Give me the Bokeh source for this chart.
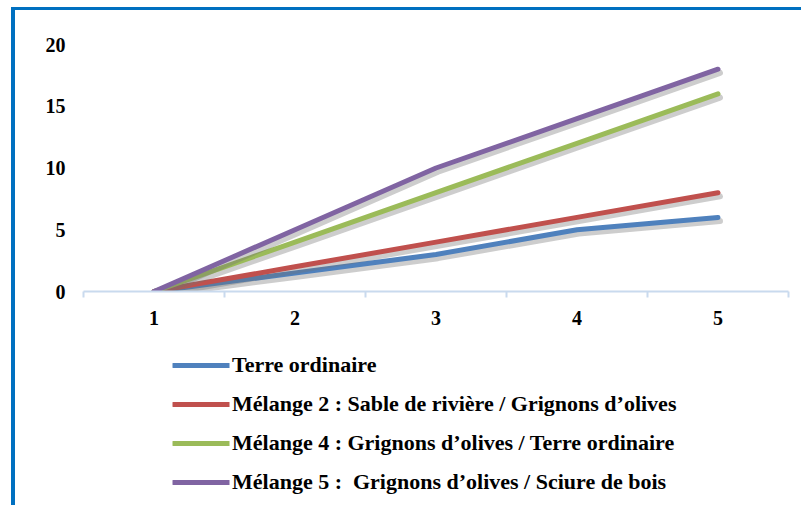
from bokeh.plotting import figure
from bokeh.models import FixedTicker, Legend, LegendItem, Range1d
from bokeh.layouts import column
from bokeh.transform import dodge
from bokeh.embed import file_html
from bokeh.resources import INLINE

x = [1, 2, 3, 4, 5]
x_labels = ["1", "2", "3", "4", "5"]
terre = [0, 1.5, 3, 5, 6]
melange2 = [0, 2, 4, 6, 8]
melange4 = [0, 4, 8, 12, 16]
melange5 = [0, 5, 10, 14, 18]
names = [
    "Terre ordinaire",
    "Mélange 2 : Sable de rivière / Grignons d’olives",
    "Mélange 4 : Grignons d’olives / Terre ordinaire",
    "Mélange 5 :  Grignons d’olives / Sciure de bois",
]
series = [terre, melange2, melange4, melange5]
colors = ["#4F81BD", "#C0504D", "#9BBB59", "#8064A2"]
y_ticks = [0, 5, 10, 15, 20]

FONT = "Liberation Serif"
BORDER = "4px solid #0070C0"

p = figure(width=790, height=330, output_backend="svg", toolbar_location=None,
           x_range=Range1d(0.5, 5.5), y_range=Range1d(0, 20),
           min_border_left=68, min_border_right=17, min_border_top=34,
           min_border_bottom=49)
p.styles = {"border-left": BORDER, "border-top": "3px solid #0070C0",
            "margin-left": "11px", "margin-top": "7px"}
p.outline_line_color = None
p.xgrid.grid_line_color = None
p.ygrid.grid_line_color = None

# x axis: boundary ticks as minor ticks, labels at categories
p.xaxis.ticker = FixedTicker(ticks=x, minor_ticks=[v - 0.5 for v in x] + [x[-1] + 0.5])
p.xaxis.major_label_overrides = {v: s for v, s in zip(x, x_labels)}
p.xaxis.axis_line_color = "#C9DAEE"
p.xaxis.axis_line_width = 2
p.xaxis.major_tick_line_color = None
p.xaxis.major_tick_out = 0
p.xaxis.major_tick_in = 0
p.xaxis.minor_tick_line_color = "#C9DAEE"
p.xaxis.minor_tick_line_width = 2
p.xaxis.minor_tick_out = 6
p.xaxis.minor_tick_in = 0
p.xaxis.major_label_standoff = 13

p.yaxis.ticker = FixedTicker(ticks=y_ticks)
p.yaxis.axis_line_color = None
p.yaxis.major_tick_line_color = None
p.yaxis.minor_tick_line_color = None
p.yaxis.major_tick_out = 0
p.yaxis.major_label_standoff = 18

for ax in (p.xaxis, p.yaxis):
    ax.major_label_text_font = FONT
    ax.major_label_text_font_style = "bold"
    ax.major_label_text_font_size = "20px"
    ax.major_label_text_color = "black"

for ys, c in zip(series, colors):
    src = {"x": x, "y": ys}
    p.line(x=dodge("x", 0.014, range=p.x_range), y=dodge("y", -0.3, range=p.y_range),
           source=src, line_color="#707070", line_alpha=0.35, line_width=6,
           line_cap="round", line_join="round")
    p.line(x="x", y="y", source=src, line_color=c, line_width=5,
           line_cap="round", line_join="round")

# legend panel (separate figure below the chart, same series drawn off-view)
q = figure(width=790, height=168, output_backend="svg", toolbar_location=None,
           x_axis_type=None, y_axis_type=None,
           x_range=Range1d(100, 101), y_range=Range1d(100, 101),
           min_border_left=68, min_border_right=17, min_border_top=15,
           min_border_bottom=0)
q.styles = {"border-left": BORDER, "margin-left": "11px"}
q.outline_line_color = None
q.xgrid.grid_line_color = None
q.ygrid.grid_line_color = None

items = []
for name, ys, c in zip(names, series, colors):
    r = q.line(x=x, y=ys, line_color=c, line_width=5, line_cap="round")
    items.append(LegendItem(label=name, renderers=[r]))

legend = Legend(items=items, location="top_center", orientation="vertical",
                border_line_color=None, background_fill_alpha=0,
                label_text_font=FONT, label_text_font_style="bold",
                label_text_font_size="22px", label_text_color="black",
                glyph_width=57, glyph_height=20, label_height=20, label_width=467,
                label_standoff=3, spacing=13, padding=5, margin=0)
q.add_layout(legend, "center")

open("out.html", "w").write(file_html(column(p, q, spacing=0), INLINE))
